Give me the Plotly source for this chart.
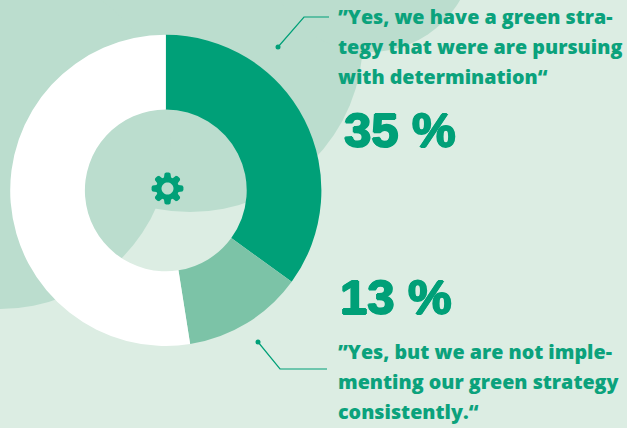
import math
import plotly.graph_objects as go

W, H = 627, 428
BG = "#DCEDE3"
BLOB = "#BBDDCE"
GREEN = "#00A078"
TEXT = "#0BA27C"

categories = ["Yes, pursuing with determination", "Yes, not consistently", "Other"]
values = [35, 12.5, 52.5]
slice_colors = [GREEN, "#7CC3A7", "#FFFFFF"]

top_quote = ["”Yes, we have a green stra-", "tegy that were are pursuing", "with determination“"]
bottom_quote = ["”Yes, but we are not imple-", "menting our green strategy", "consistently.“"]
top_pct = "35 %"
bottom_pct = "13 %"

# decorative backdrop circles: centre x, centre y, radius (pixels)
blobs = [(190, 39, 173), (0, 138, 171), (370, -52, 104)]
# leader lines
leader_top = ([278, 304, 329], [47, 17, 17])
leader_bottom = ([258, 280, 327], [342, 369, 369])


def gear_path(cx, cy, ro, ri, hole, teeth=8):
    pts = []
    step = 2 * math.pi / teeth
    for i in range(teeth):
        a = i * step - math.pi / 2
        for off, r in [(-0.40, ri), (-0.25, ro * 0.95), (-0.12, ro), (0.12, ro), (0.25, ro * 0.95), (0.40, ri)]:
            t = a + off * step
            pts.append((cx + r * math.cos(t), cy + r * math.sin(t)))
    d = "M" + " L".join(f"{x:.2f},{y:.2f}" for x, y in pts) + " Z"
    hp = [(cx + hole * math.cos(k * math.pi / 18), cy + hole * math.sin(k * math.pi / 18)) for k in range(36)]
    d += " M" + " L".join(f"{x:.2f},{y:.2f}" for x, y in hp) + " Z"
    return d


fig = go.Figure()

for xs, ys in (leader_top, leader_bottom):
    fig.add_trace(go.Scatter(x=xs, y=ys, mode="lines", line=dict(color=GREEN, width=1.2),
                             hoverinfo="skip", showlegend=False))

DCX, DCY, DR = 165.8, 190.4, 155.6
fig.add_trace(go.Pie(
    labels=categories, values=values, sort=False, direction="clockwise", rotation=0,
    hole=0.52, marker=dict(colors=slice_colors, line=dict(width=0)),
    textinfo="none", hoverinfo="label+percent", showlegend=False,
    domain=dict(x=[(DCX - DR) / W, (DCX + DR) / W], y=[1 - (DCY + DR) / H, 1 - (DCY - DR) / H]),
))

for cx, cy, r in blobs:
    fig.add_shape(type="circle", xref="x", yref="y", x0=cx - r, x1=cx + r, y0=cy - r, y1=cy + r,
                  fillcolor=BLOB, line=dict(width=0), layer="below")
fig.add_shape(type="path", xref="x", yref="y", path=gear_path(167.5, 188.5, 16, 11.5, 6),
              fillcolor=GREEN, line=dict(width=0), layer="above")
for xs, ys in (leader_top, leader_bottom):
    fig.add_shape(type="circle", xref="x", yref="y", x0=xs[0] - 2.5, x1=xs[0] + 2.5,
                  y0=ys[0] - 2.5, y1=ys[0] + 2.5, fillcolor=GREEN, line=dict(width=0), layer="above")


def label(txt, x, y, font):
    fig.add_annotation(x=x, y=y, xref="x", yref="y", text=txt, showarrow=False,
                       xanchor="left", yanchor="middle", align="left", font=font)


qf = dict(family="Open Sans", size=19.7, color=TEXT, weight=800)
for i, t in enumerate(top_quote):
    label(t, 336, 16 + 30 * i, qf)
for i, t in enumerate(bottom_quote):
    label(t, 336, 351 + 30 * i, qf)
pf = dict(family="Liberation Sans", size=49, color=GREEN, weight=700,
          shadow="1px 0 0 #00A078, -1px 0 0 #00A078, 0 0.6px 0 #00A078, 0 -0.6px 0 #00A078")
label(top_pct, 342, 130, pf)
label(bottom_pct, 338, 297, pf)

fig.update_layout(
    width=W, height=H, margin=dict(l=0, r=0, t=0, b=0),
    paper_bgcolor=BG, plot_bgcolor="rgba(0,0,0,0)",
    xaxis=dict(range=[0, W], visible=False, fixedrange=True),
    yaxis=dict(range=[H, 0], visible=False, fixedrange=True),
    showlegend=False,
)
fig.write_html("out.html", config=dict(displayModeBar=False),
               post_script="document.body.style.margin='0';")
